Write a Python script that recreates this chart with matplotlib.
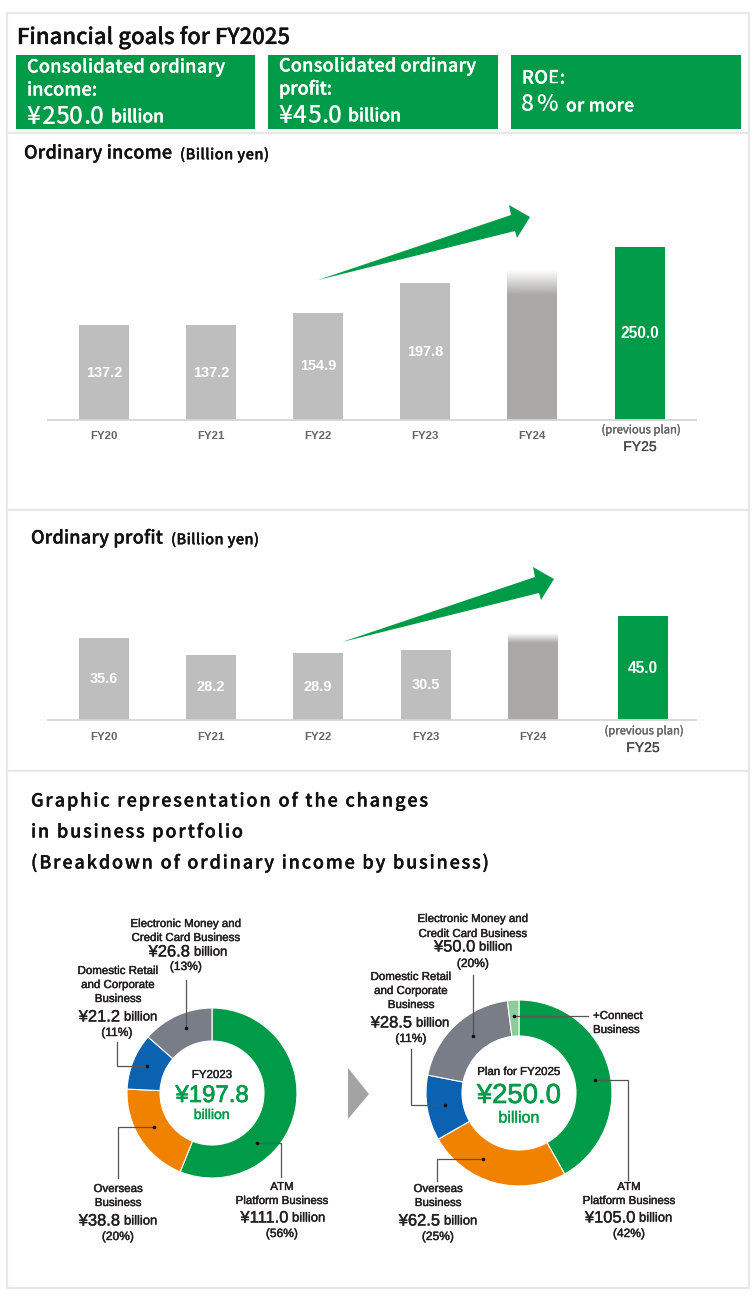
import matplotlib
matplotlib.use('Agg')
from matplotlib import pyplot as plt
from matplotlib.patches import Rectangle, Polygon
import matplotlib.patheffects as pe
import numpy as np

W, H = 754, 1302

# chart values
years = ["FY20", "FY21", "FY22", "FY23", "FY24", "FY25"]
income_values = [137.2, 137.2, 154.9, 197.8, 216.8, 250.0]
profit_values = [35.6, 28.2, 28.9, 30.5, 37.6, 45.0]
hidden_year = "FY24"

portfolio_2023 = [111.0, 38.8, 21.2, 26.8]
portfolio_2025 = [105.0, 62.5, 28.5, 50.0, 5.0]

GREEN = "#009B48"
ORANGE = "#F08200"
BLUE = "#0A62B0"
SLATE = "#787D87"
LIGHT_GREEN = "#8FCC9B"
colors_2023 = [GREEN, ORANGE, BLUE, SLATE]
colors_2025 = [GREEN, ORANGE, BLUE, SLATE, LIGHT_GREEN]

BAR_GREY = "#BEBEBE"
FADE_GREY = "#ABA8A6"
FRAME = "#E8E8E8"
INK = "#231F20"
JP = "Noto Sans CJK JP"
SANS = "Liberation Sans"

fig = plt.figure(figsize=(W / 100, H / 100), dpi=100, facecolor="white")


def px_axes(left, top, right, bottom, zorder):
    ax = fig.add_axes([left / W, 1 - bottom / H, (right - left) / W, (bottom - top) / H], zorder=zorder)
    ax.patch.set_visible(False)
    return ax


# overlay in image pixels for panels, text and leaders
back = px_axes(0, 0, W, H, 0)
back.set_xlim(0, W)
back.set_ylim(H, 0)
back.axis("off")
over = px_axes(0, 0, W, H, 5)
over.set_xlim(0, W)
over.set_ylim(H, 0)
over.axis("off")

for top, bottom in [(13, 133), (133, 510), (510, 771), (771, 1288)]:
    back.add_patch(Rectangle((7, top), 742, bottom - top, fc="white", ec=FRAME, lw=1.6))


def txt(x, y, s, size, color=INK, family=SANS, ha="center", weight="normal", stroke=0.3):
    t = over.text(x, y, s, fontsize=size * 0.72, color=color, family=family, ha=ha, va="center", weight=weight)
    if stroke:
        t.set_path_effects([pe.withStroke(linewidth=stroke, foreground=color)])
    return t


def fitted(x, y, s, size, x_end, color="#111111", weight="medium", stroke=0.25):
    # per-character placement so the string runs from x to x_end, no letter spacing in matplotlib
    renderer = fig.canvas.get_renderer()
    probe = over.text(0, 0, "", fontsize=size * 0.72, family=JP, weight=weight)
    prop = probe.get_fontproperties()
    probe.remove()
    dot = renderer.get_text_width_height_descent(".", prop, False)[0]
    natural = renderer.get_text_width_height_descent(s + ".", prop, False)[0] - dot
    gap = (x_end - x - natural) / max(len(s) - 1, 1)
    for i, ch in enumerate(s):
        w = renderer.get_text_width_height_descent(s[:i] + ".", prop, False)[0] - dot
        t = over.text(x + w + i * gap, y + size * 0.36, ch, fontsize=size * 0.72, family=JP, weight=weight,
                      color=color, ha="left", va="baseline")
        if stroke:
            t.set_path_effects([pe.withStroke(linewidth=stroke, foreground=color)])


# header boxes
fitted(17, 36, "Financial goals for FY2025", 22, 290)
for left, right in [(16, 255), (268, 498), (511, 741)]:
    over.add_patch(Rectangle((left, 55), right - left, 74, fc=GREEN, ec="none"))
fitted(27, 66, "Consolidated ordinary", 18, 225, "white")
fitted(27, 89, "income:", 18, 97, "white")
fitted(27, 115, "¥250.0", 24.5, 104, "white", stroke=0)
fitted(111, 116, "billion", 17.5, 164, "white")
fitted(279, 65, "Consolidated ordinary", 18, 476, "white")
fitted(279, 88, "profit:", 18, 332, "white")
fitted(279, 114, "¥45.0", 24.5, 342, "white", stroke=0)
fitted(348, 115, "billion", 17.5, 401, "white")
fitted(522, 77, "ROE:", 18, 565, "white")
fitted(521, 103, "8%", 23, 558, "white", stroke=0)
fitted(566, 105, "or more", 17.5, 634, "white")

fitted(24, 152, "Ordinary income", 18, 172)
fitted(180, 154, "(Billion yen)", 14.5, 269)
fitted(31, 537, "Ordinary profit", 18, 163)
fitted(171, 539, "(Billion yen)", 14.5, 259)

fitted(31, 800, "Graphic representation of the changes", 18, 428)
fitted(31, 831, "in business portfolio", 18, 243)
fitted(31, 862, "(Breakdown of ordinary income by business)", 18, 489)


def bar_panel(values, base_y, px_per_unit, centers, fade_px, label_y, arrow_dy, arrow_dx):
    step = 107.2
    left, right, top = 48, 696, base_y - 240
    ax = px_axes(left, top, right, base_y, 2)
    xs = [(c - centers[0]) / step for c in centers]
    width = 50 / step
    fade = fade_px / px_per_unit
    for x, year, v in zip(xs, years, values):
        if year == hidden_year:
            ax.bar(x, v - fade, width, color=FADE_GREY)
            grad = np.ones((64, 1, 4))
            grad[:, 0, :3] = matplotlib.colors.to_rgb(FADE_GREY)
            grad[:, 0, 3] = np.linspace(0, 1, 64)
            ax.imshow(grad, extent=[x - width / 2, x + width / 2, v - fade, v], aspect="auto", zorder=2)
            continue
        color = GREEN if year == "FY25" else BAR_GREY
        ax.bar(x, v, width, color=color)
        ax.text(x, v / 2, f"{v:.1f}", color="white", ha="center", va="center", family=SANS, weight="bold",
                fontsize=(15.5 if year == "FY25" else 14.5) * 0.72)
    ax.set_xlim((left - centers[0]) / step, (right - centers[0]) / step)
    ax.set_ylim(0, 240 / px_per_unit)
    ax.axis("off")
    over.plot([left, right], [base_y, base_y], color="#D5D5D5", lw=1.3)
    for c, year in zip(centers, years):
        if year == "FY25":
            txt(c + 1, label_y - 6, "(previous plan)", 11.3, "#666666", JP, stroke=0.25)
            txt(c, label_y + 11, year, 14, "#444444", SANS, stroke=0.15)
        else:
            txt(c, label_y, year, 11.5, "#666666", SANS, weight="bold", stroke=0)
    # trend arrow
    pts = [(318, 280), (511, 215), (509, 205), (530, 217), (517, 238), (515, 231)]
    over.add_patch(Polygon([(x + arrow_dx, y + arrow_dy) for x, y in pts], fc=GREEN, ec="none"))


bar_panel(income_values, 420, 0.692, [104, 211, 318, 425, 532, 640], 25, 436, 0, 0)
bar_panel(profit_values, 720, 2.31, [104, 211, 318, 426, 533, 643], 10, 737, 362, 24)


def donut(values, colors, cx, cy, r_out, r_in):
    ax = px_axes(cx - r_out - 1, cy - r_out - 1, cx + r_out + 1, cy + r_out + 1, 2)
    ax.pie(values, colors=colors, radius=r_out / (r_out + 1), startangle=90, counterclock=False,
           wedgeprops=dict(width=(r_out - r_in) / (r_out + 1), edgecolor="white", linewidth=0.8))
    ax.set_xlim(-1, 1)
    ax.set_ylim(-1, 1)


def leader(points):
    xs, ys = zip(*points)
    over.plot(xs, ys, color="#555555", lw=0.9, solid_joinstyle="miter")
    over.plot(xs[-1], ys[-1], "o", color="#111111", ms=2.6, mew=0)


def money(cx, y, amount, split):
    # big amount then small "billion"
    txt(split - 2, y, amount, 16.5, ha="right")
    txt(split + 2, y + 0.5, "billion", 13, ha="left")


donut(portfolio_2023, colors_2023, 212, 1093, 85, 52)
donut(portfolio_2025, colors_2025, 519, 1093, 93, 57)

txt(212, 1075, "FY2023", 11.5)
txt(212, 1096, "¥197.8", 24, GREEN, stroke=0.5)
txt(212, 1115, "billion", 14, GREEN)
txt(519, 1072, "Plan for FY2025", 11.5)
txt(519, 1096, "¥250.0", 27.5, GREEN, stroke=0.5)
txt(519, 1118, "billion", 16, GREEN)

for y, s in [(924, "Electronic Money and"), (938, "Credit Card Business")]:
    txt(186, y, s, 11.5)
money(186, 952, "¥26.8", 192)
txt(186, 967, "(13%)", 12)
for y, s in [(971, "Domestic Retail"), (985, "and Corporate"), (999, "Business")]:
    txt(118, y, s, 11.5)
money(118, 1017, "¥21.2", 122)
txt(117, 1033, "(11%)", 12)
for y, s in [(1189, "Overseas"), (1203, "Business")]:
    txt(118, y, s, 11.5)
money(118, 1221, "¥38.8", 122)
txt(118, 1237, "(20%)", 12)
for y, s in [(1187, "ATM"), (1201, "Platform Business")]:
    txt(282, y, s, 11.5)
money(282, 1218, "¥111.0", 290)
txt(282, 1234, "(56%)", 12)

for y, s in [(919, "Electronic Money and"), (934, "Credit Card Business")]:
    txt(473, y, s, 11.5)
money(473, 947, "¥50.0", 477)
txt(473, 964, "(20%)", 12)
for y, s in [(977, "Domestic Retail"), (991, "and Corporate"), (1005, "Business")]:
    txt(411, y, s, 11.5)
money(411, 1023, "¥28.5", 414)
txt(411, 1039, "(11%)", 12)
for y, s in [(1189, "Overseas"), (1203, "Business")]:
    txt(438, y, s, 11.5)
money(438, 1221, "¥62.5", 442)
txt(438, 1237, "(25%)", 12)
for y, s in [(1187, "ATM"), (1201, "Platform Business")]:
    txt(629, y, s, 11.5)
money(629, 1218, "¥105.0", 637)
txt(629, 1234, "(42%)", 12)
txt(593, 1016, "+Connect", 11.5, ha="left")
txt(593, 1030, "Business", 11.5, ha="left")

leader([(186, 980), (186, 1028)])
leader([(117, 1042), (117, 1066), (147, 1066)])
leader([(118, 1178), (118, 1127), (154, 1127)])
leader([(281, 1177), (281, 1143), (257, 1143)])
leader([(473, 975), (473, 1036)])
leader([(411, 1049), (411, 1105), (445, 1105)])
leader([(437, 1181), (437, 1159), (483, 1159)])
leader([(628, 1180), (628, 1080), (595, 1080)])
leader([(588, 1016), (514, 1016)])

over.add_patch(Polygon([(348, 1068), (369, 1094), (348, 1119)], fc="#A3A3A3", ec="none"))

fig.savefig("out.png", dpi=100)
